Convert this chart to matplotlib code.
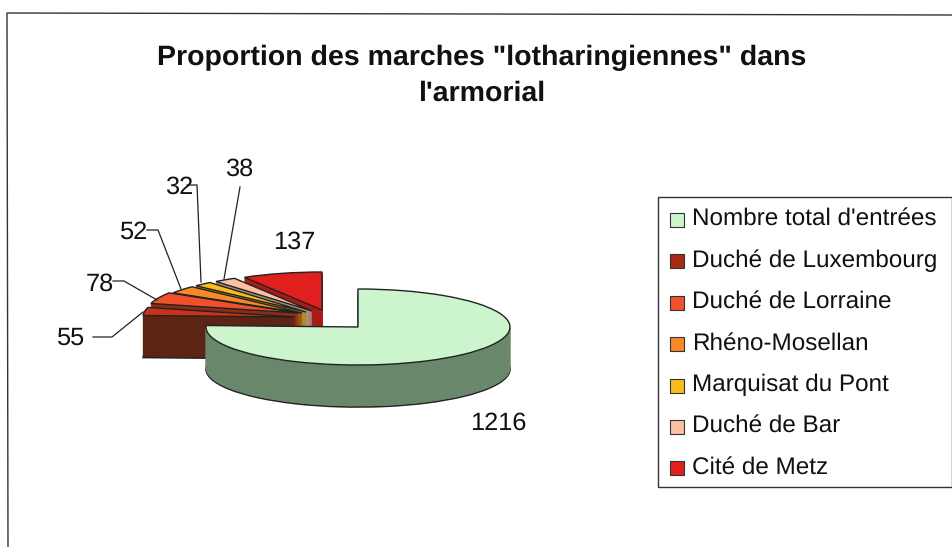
import matplotlib
matplotlib.use('Agg')
from matplotlib import pyplot as plt
from matplotlib.patches import Rectangle

plt.rcParams['font.family'] = ['Liberation Sans', 'DejaVu Sans']
plt.rcParams['text.hinting'] = 'none'

W, H = 952, 547
RX, RY = 152, 38
DEPTH = 42

names = ['Nombre total d\'entrées', 'Duché de Luxembourg', 'Duché de Lorraine',
         'Rhéno-Mosellan', 'Marquisat du Pont', 'Duché de Bar', 'Cité de Metz']
values = [1216, 55, 78, 52, 32, 38, 137]
top_colors = ['#cdf5cd', '#c8321a', '#f0502c', '#f58a26', '#fabb1e', '#fac0a0', '#e0201f']
side_colors = ['#69876a', '#5c2414', '#8c2c16', '#94501a', '#b8861a', '#a89080', '#a81c18']
legend_colors = ['#cdf5cd', '#a82a14', '#f0502c', '#f58a26', '#fabb1e', '#fac0a0', '#e0201f']

# where each slice's apex ended up after the explosion (pixels)
apex_x = [358, 295, 298, 302, 306, 312, 322]
apex_y = [327, 317, 313, 313, 312, 311, 310]

# text and leader lines (pixels)
label_pos = [(71, 338), (100, 284), (134, 232), (179, 187), (239, 169), (294, 242), (498, 423)]
label_pos = [label_pos[-1]] + label_pos[:-1]
leaders = [[(93, 337), (112, 337), (143, 312)],
           [(113, 281), (124, 281), (157, 300)],
           [(147, 230), (158, 230), (181, 289)],
           [(187, 185), (197, 185), (201, 282)],
           [(240, 187), (224, 279)]]

fig = plt.figure(figsize=(W / 100, H / 100), dpi=100)

# pie axes: one data unit is RX pixels across and RY pixels up
pie_ax = fig.add_axes([0, 0, 1, 1])
# back slices first so the nearer ones paint over them
draw_order = [6, 5, 4, 3, 2, 1, 0]
for level in range(DEPTH, -1, -1):
    wedges, _ = pie_ax.pie(values, startangle=90, counterclock=False, radius=1)
    for i, w in enumerate(wedges):
        w.set_center((apex_x[i] / RX, (H - apex_y[i] - level) / RY))
        w.set_zorder(draw_order[i] * 100 + DEPTH - level + 2)
        if level == 0:
            w.set_facecolor(top_colors[i])
            w.set_edgecolor('#222222')
            w.set_linewidth(1.0)
        elif level == DEPTH:
            w.set_facecolor(side_colors[i])
            w.set_edgecolor('#222222')
            w.set_linewidth(1.2)
        else:
            w.set_facecolor(side_colors[i])
            w.set_edgecolor(side_colors[i])
            w.set_linewidth(0.5)
pie_ax.set_aspect('auto')
pie_ax.set_xlim(0, W / RX)
pie_ax.set_ylim(0, H / RY)
pie_ax.axis('off')

# overlay in pixel coordinates for frame, title, labels, legend
ax = fig.add_axes([0, 0, 1, 1], facecolor='none')
ax.set_xlim(0, W)
ax.set_ylim(H, 0)
ax.axis('off')

ax.plot([8, 7, W], [H, 13, 15], color='#333333', lw=1.0, clip_on=False)

ax.text(482, 58, 'Proportion des marches "lotharingiennes" dans', fontsize=20.5, fontweight='bold',
        ha='center', va='center', color='#111111')
ax.text(482, 93, "l'armorial", fontsize=20.5, fontweight='bold', ha='center', va='center', color='#111111')

for v, (x, y) in zip(values, label_pos):
    ax.text(x, y, str(v), fontsize=18.3, ha='center', va='center', color='#111111')
for line in leaders:
    ax.plot([p[0] for p in line], [p[1] for p in line], color='#222222', lw=0.9)

# legend
ax.add_patch(Rectangle((658, 197), 294, 290, facecolor='white', edgecolor='#333333', lw=1.0, clip_on=False))
for i, name in enumerate(names):
    y = 220 + i * 41.4
    ax.add_patch(Rectangle((670, y - 7), 14, 14, facecolor=legend_colors[i], edgecolor='#333333', lw=0.8, zorder=3))
    ax.text(692, y - 1, name, fontsize=17.5, ha='left', va='center', color='#111111', zorder=3)

fig.savefig('out.png', dpi=100)
